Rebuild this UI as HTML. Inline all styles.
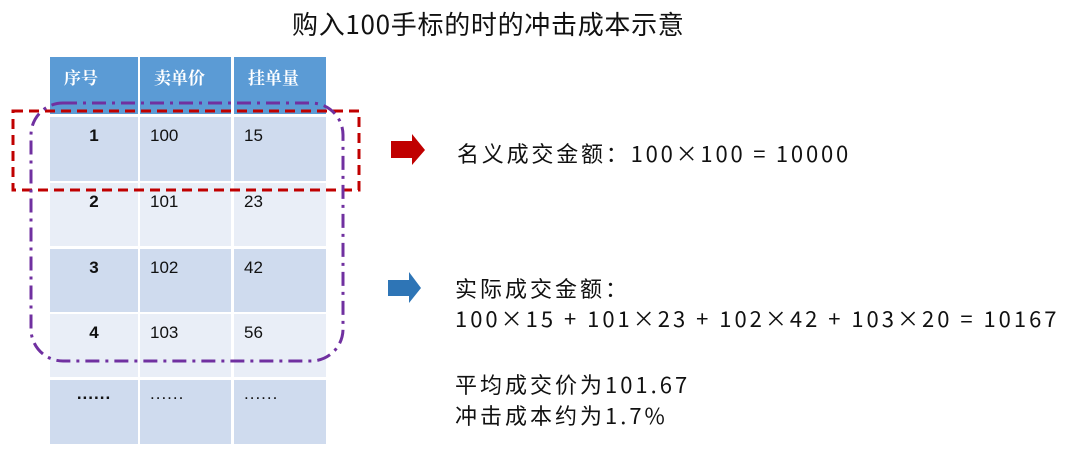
<!DOCTYPE html>
<html><head><meta charset="utf-8"><style>
body{margin:0;width:1071px;height:453px;background:#fff;position:relative;overflow:hidden;font-family:"Liberation Sans","Noto Sans CJK SC",sans-serif}
.c{position:absolute;box-sizing:border-box}
.h{background:#5b9bd5;color:#fff;font-weight:bold;font-size:17px;padding:7px 0 0 14px;font-family:"Noto Serif CJK SC","Noto Sans CJK SC",serif}
.d{background:#cfdbee;font-size:17px;padding:9px 0 0 10px;color:#111}
.l{background:#e9eef7}
.n{text-align:center;padding-left:0;font-weight:bold}
.t{position:absolute;font-size:22px;line-height:30px;letter-spacing:3px;color:#111;white-space:nowrap;font-family:"Noto Sans CJK SC",sans-serif}
</style></head><body>
<div class="t" style="left:292px;top:9px;font-size:26px;letter-spacing:0.7px">购入100手标的时的冲击成本示意</div>

<div class="c h" style="left:50px;top:57px;width:88px;height:57px">序号</div>
<div class="c h" style="left:140px;top:57px;width:91px;height:57px">卖单价</div>
<div class="c h" style="left:234px;top:57px;width:92px;height:57px">挂单量</div>

<div class="c d n" style="left:50px;top:117px;width:88px;height:64px">1</div>
<div class="c d" style="left:140px;top:117px;width:91px;height:64px">100</div>
<div class="c d" style="left:234px;top:117px;width:92px;height:64px">15</div>

<div class="c d l n" style="left:50px;top:183px;width:88px;height:63px">2</div>
<div class="c d l" style="left:140px;top:183px;width:91px;height:63px">101</div>
<div class="c d l" style="left:234px;top:183px;width:92px;height:63px">23</div>

<div class="c d n" style="left:50px;top:249px;width:88px;height:63px">3</div>
<div class="c d" style="left:140px;top:249px;width:91px;height:63px">102</div>
<div class="c d" style="left:234px;top:249px;width:92px;height:63px">42</div>

<div class="c d l n" style="left:50px;top:314px;width:88px;height:63px">4</div>
<div class="c d l" style="left:140px;top:314px;width:91px;height:63px">103</div>
<div class="c d l" style="left:234px;top:314px;width:92px;height:63px">56</div>

<div class="c d n" style="left:50px;top:380px;width:88px;height:64px;padding-top:4px;letter-spacing:1px">......</div>
<div class="c d" style="left:140px;top:380px;width:91px;height:64px;padding-top:4px;letter-spacing:1px">......</div>
<div class="c d" style="left:234px;top:380px;width:92px;height:64px;padding-top:4px;letter-spacing:1px">......</div>

<svg style="position:absolute;left:0;top:0" width="1071" height="453">
<rect x="13" y="111" width="346" height="79" fill="none" stroke="#c00000" stroke-width="3" stroke-dasharray="10,6"/>
<rect x="31" y="103" width="312" height="258" rx="32" fill="none" stroke="#7030a0" stroke-width="3" stroke-dasharray="14,6,3,6"/>
<polygon points="391,141 412,141 412,134 425,150 412,165 412,158 391,158" fill="#c00000"/>
<polygon points="388,280 409,280 409,272 421,288 409,303 409,296 388,296" fill="#2e75b6"/>
</svg>

<div class="t" style="left:457px;top:138px;letter-spacing:2.8px">名义成交金额：100×100 = 10000</div>
<div class="t" style="left:455px;top:273px">实际成交金额：</div>
<div class="t" style="left:455px;top:303px">100×15 + 101×23 + 102×42 + 103×20 = 10167</div>
<div class="t" style="left:455px;top:369px">平均成交价为101.67</div>
<div class="t" style="left:455px;top:400px">冲击成本约为1.7%</div>
</body></html>
